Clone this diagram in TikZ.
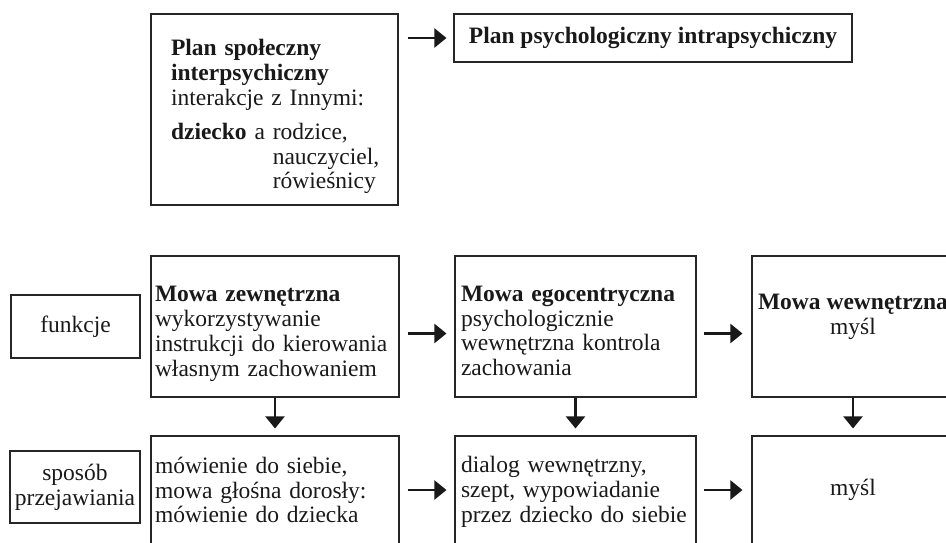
\documentclass[tikz,border=0pt]{standalone}
\usepackage{fontspec}
\setmainfont{Liberation Serif}
\usetikzlibrary{arrows.meta}

% invisible first-line pad that lowers a text block inside its box
\newcommand\padtop[1]{\rule{0pt}{#1}}

\begin{document}
\begin{tikzpicture}[x=1pt, y=-1pt,
  every node/.style={font=\fontsize{23.5}{24.7}\selectfont, text=black!90},
  box/.style={draw=black!85, line width=1.1pt, inner ysep=0pt},
  leftbox/.style={box, align=left},
  midbox/.style={box, align=center},
  arr/.style={draw=black!90, line width=2.2pt, -{Triangle[length=12pt,width=19pt]}},
]
\useasboundingbox (0,0) rectangle (946,542);

% upper part: social plane -> psychological plane
\node[leftbox, text width=207pt, inner xsep=20pt, minimum height=191pt] (social) at (274.5,109.5)
  {\padtop{30pt}\textbf{Plan społeczny}\\[1pt]
   \textbf{interpsychiczny}\\
   interakcje z Innymi:\\[9pt]
   \textbf{dziecko} a rodzice,\\
   \hphantom{\textbf{dziecko} a }nauczyciel,\\
   \hphantom{\textbf{dziecko} a }rówieśnicy};
\node[midbox, minimum width=398pt, minimum height=48pt] (psych) at (653,38)
  {\textbf{Plan psychologiczny intrapsychiczny}};

% row of functions
\node[midbox, minimum width=129pt, minimum height=63pt] (funkcje) at (75.5,326.5) {funkcje};
\node[leftbox, text width=240pt, inner xsep=4pt, minimum height=141pt] (ext) at (275,326.5)
  {\padtop{30pt}\textbf{Mowa zewnętrzna}\\
   wykorzystywanie\\
   instrukcji do kierowania\\
   własnym zachowaniem};
\node[leftbox, text width=229pt, inner xsep=6pt, minimum height=141pt] (ego) at (575.5,326.5)
  {\padtop{24pt}\textbf{Mowa egocentryczna}\\
   psychologicznie\\
   wewnętrzna kontrola\\
   zachowania};
\node[midbox, minimum width=202pt, minimum height=141pt] (inner) at (853,326.5)
  {\textbf{Mowa wewnętrzna}\\myśl\\\mbox{}};

% row of manifestations
\node[midbox, minimum width=130pt, minimum height=72pt] (sposob) at (75,487) {sposób\\przejawiania};
\node[leftbox, text width=240pt, inner xsep=4pt, minimum height=108pt] (extb) at (275,490)
  {mówienie do siebie,\\
   mowa głośna dorosły:\\
   mówienie do dziecka};
\node[leftbox, text width=229pt, inner xsep=6pt, minimum height=108pt] (egob) at (575.5,490)
  {\padtop{20pt}dialog wewnętrzny,\\
   szept, wypowiadanie\\
   przez dziecko do siebie};
\node[midbox, minimum width=202pt, minimum height=108pt] (innerb) at (853,490) {myśl};

% connectors
\draw[arr, shorten <=9pt, shorten >=7pt] (social.east |- psych.west) -- (psych.west);
\draw[arr, shorten <=8pt, shorten >=8pt] ([yshift=-7pt]ext.east) -- ([yshift=-7pt]ego.west);
\draw[arr, shorten <=7pt, shorten >=9pt] ([yshift=-7pt]ego.east) -- ([yshift=-7pt]inner.west);
\draw[arr, shorten <=8pt, shorten >=8pt] (extb.east) -- (egob.west);
\draw[arr, shorten <=7pt, shorten >=9pt] (egob.east) -- (innerb.west);
\draw[arr, shorten >=7pt] (ext.south) -- (extb.north);
\draw[arr, shorten >=7pt] (ego.south) -- (egob.north);
\draw[arr, shorten >=7pt] (inner.south) -- (innerb.north);
\end{tikzpicture}
\end{document}
